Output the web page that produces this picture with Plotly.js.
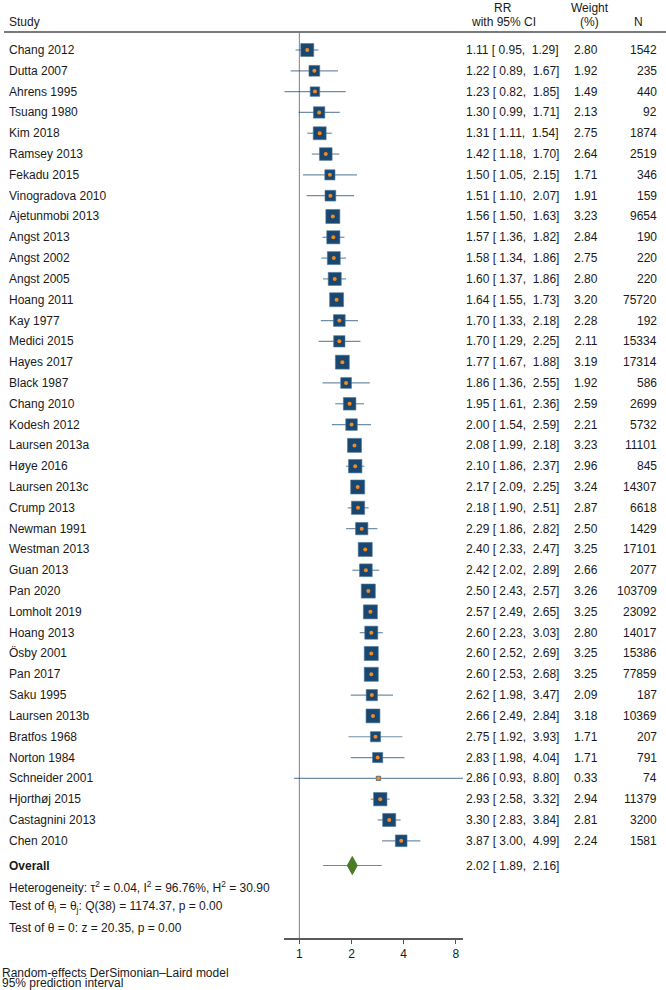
<!DOCTYPE html>
<html>
<head>
<meta charset="utf-8">
<script src="https://cdn.plot.ly/plotly-3.0.1.min.js"></script>
<style>html,body{margin:0;padding:0;background:#fff;}#chart{width:666px;height:990px;}</style>
</head>
<body>
<div id="chart"></div>
<script>
const studies = ["Chang 2012","Dutta 2007","Ahrens 1995","Tsuang 1980","Kim 2018","Ramsey 2013","Fekadu 2015","Vinogradova 2010","Ajetunmobi 2013","Angst 2013","Angst 2002","Angst 2005","Hoang 2011","Kay 1977","Medici 2015","Hayes 2017","Black 1987","Chang 2010","Kodesh 2012","Laursen 2013a","Høye 2016","Laursen 2013c","Crump 2013","Newman 1991","Westman 2013","Guan 2013","Pan 2020","Lomholt 2019","Hoang 2013","Ösby 2001","Pan 2017","Saku 1995","Laursen 2013b","Bratfos 1968","Norton 1984","Schneider 2001","Hjorthøj 2015","Castagnini 2013","Chen 2010"];
const rr     = [1.11,1.22,1.23,1.30,1.31,1.42,1.50,1.51,1.56,1.57,1.58,1.60,1.64,1.70,1.70,1.77,1.86,1.95,2.00,2.08,2.10,2.17,2.18,2.29,2.40,2.42,2.50,2.57,2.60,2.60,2.60,2.62,2.66,2.75,2.83,2.86,2.93,3.30,3.87];
const ciLow  = [0.95,0.89,0.82,0.99,1.11,1.18,1.05,1.10,1.50,1.36,1.34,1.37,1.55,1.33,1.29,1.67,1.36,1.61,1.54,1.99,1.86,2.09,1.90,1.86,2.33,2.02,2.43,2.49,2.23,2.52,2.53,1.98,2.49,1.92,1.98,0.93,2.58,2.83,3.00];
const ciHigh = [1.29,1.67,1.85,1.71,1.54,1.70,2.15,2.07,1.63,1.82,1.86,1.86,1.73,2.18,2.25,1.88,2.55,2.36,2.59,2.18,2.37,2.25,2.51,2.82,2.47,2.89,2.57,2.65,3.03,2.69,2.68,3.47,2.84,3.93,4.04,8.80,3.32,3.84,4.99];
const weight = [2.80,1.92,1.49,2.13,2.75,2.64,1.71,1.91,3.23,2.84,2.75,2.80,3.20,2.28,2.11,3.19,1.92,2.59,2.21,3.23,2.96,3.24,2.87,2.50,3.25,2.66,3.26,3.25,2.80,3.25,3.25,2.09,3.18,1.71,1.71,0.33,2.94,2.81,2.24];
const nObs   = [1542,235,440,92,1874,2519,346,159,9654,190,220,220,75720,192,15334,17314,586,2699,5732,11101,845,14307,6618,1429,17101,2077,103709,23092,14017,15386,77859,187,10369,207,791,74,11379,3200,1581];

const overall = {label: "Overall", rr: 2.02, lo: 1.89, hi: 2.16, predLo: 1.37, predHi: 2.99};
const statLines = [
  "Heterogeneity: τ<sup>2</sup> = 0.04, I<sup>2</sup> = 96.76%, H<sup>2</sup> = 30.90",
  "Test of θ<sub>i</sub> = θ<sub>j</sub>: Q(38) = 1174.37, p = 0.00",
  "Test of θ = 0: z = 20.35, p = 0.00"
];
const footLines = ["Random-effects DerSimonian–Laird model", "95% prediction interval"];
const tickVals = [1, 2, 4, 8];
const tickLabels = ["1", "2", "4", "8"];

// ---- layout helpers (pixel -> paper) ----
const W = 666, H = 990;
const px = x => x / W;
const py = y => 1 - y / H;
const FONT = "Liberation Sans, Arial, sans-serif";
const TXT = "#1a1a1a";
const ROW0 = 50, ROWSTEP = 20.81, AXIS_Y = 938;
const yTop = -ROW0 / ROWSTEP, yBot = (AXIS_Y - ROW0) / ROWSTEP;
const rowOf = y => (y - ROW0) / ROWSTEP;
const overallRow = rowOf(865.5);

const NAVY = "#1a476f";
const fmt = v => v.toFixed(2);
const pad = v => (v < 10 ? "\u00a0" : "") + fmt(v);

const traces = [];
// CI lines
const lx = [], ly = [];
studies.forEach((s, i) => { lx.push(ciLow[i], ciHigh[i], null); ly.push(i, i, null); });
traces.push({x: lx, y: ly, mode: "lines", line: {color: "rgba(26,71,111,0.62)", width: 1.2}, hoverinfo: "skip"});
// squares
traces.push({x: rr, y: studies.map((s, i) => i), mode: "markers",
  marker: {symbol: "square", size: weight.map(w => 7.8 * Math.sqrt(w)), color: NAVY, opacity: 1,
           line: {color: "#4f7aa0", width: 0.6}}, cliponaxis: false, hoverinfo: "skip"});
// centre dots
traces.push({x: rr, y: studies.map((s, i) => i), mode: "markers",
  marker: {symbol: "circle", size: 4, color: "#f28a1e", opacity: 1, line: {width: 0}}, cliponaxis: false, hoverinfo: "skip"});
// prediction interval
traces.push({x: [overall.predLo, overall.predHi], y: [overallRow, overallRow], mode: "lines",
  line: {color: "#6f9a4c", width: 1.2}, hoverinfo: "skip"});
// diamond
const dh = 0.43;
traces.push({x: [overall.lo, overall.rr, overall.hi, overall.rr, overall.lo],
  y: [overallRow, overallRow - dh, overallRow, overallRow + dh, overallRow],
  mode: "lines", fill: "toself", fillcolor: "#4b7b27", line: {color: "#4b7b27", width: 1}, hoverinfo: "skip"});

const ann = [];
const A = (text, x, y, xanchor, yref, extra) => ann.push(Object.assign({
  text, x, y, xref: "paper", yref: yref || "paper", xanchor, yanchor: "middle",
  showarrow: false, font: {family: FONT, size: 12, color: TXT}
}, extra || {}));

// headers
A("Study", px(6.5), py(22), "left");
A("RR", px(503), py(8), "center");
A("with 95% CI", px(503), py(22), "center");
A("Weight", px(589.5), py(8), "center");
A("(%)", px(589), py(22), "center");
A("N", px(638), py(22), "center");

studies.forEach((s, i) => {
  A(s, px(6.5), i, "left", "y");
  A(fmt(rr[i]) + " [" + pad(ciLow[i]) + ",\u00a0" + pad(ciHigh[i]) + "]", px(560.5), i, "right", "y");
  A(fmt(weight[i]), px(599.5), i, "right", "y");
  A(String(nObs[i]), px(658.5), i, "right", "y");
});
A("<b>" + overall.label + "</b>", px(6.5), overallRow, "left", "y");
A(fmt(overall.rr) + " [" + pad(overall.lo) + ",\u00a0" + pad(overall.hi) + "]", px(560.5), overallRow, "right", "y");
[886.7, 906.7, 927.5].forEach((y, k) => A(statLines[k], px(6.5), py(y), "left"));
A(footLines[0], px(0), py(972.5), "left");
A(footLines[1], px(0), py(983), "left");

const layout = {
  width: W, height: H,
  margin: {l: 0, r: 0, t: 0, b: 0, pad: 0},
  paper_bgcolor: "#fff", plot_bgcolor: "rgba(0,0,0,0)",
  showlegend: false,
  xaxis: {type: "log", domain: [px(284), px(463)], range: [Math.log10(0.815), Math.log10(8.8)],
    tickvals: tickVals, ticktext: tickLabels, ticks: "outside", ticklen: 4, tickwidth: 1.2, tickcolor: "#555",
    showline: true, linecolor: "#5a5a5a", linewidth: 1.6, showgrid: false, zeroline: false,
    tickfont: {family: FONT, size: 12, color: TXT}, fixedrange: true},
  yaxis: {domain: [py(AXIS_Y), 1], range: [yBot, yTop], visible: false, showgrid: false, zeroline: false, fixedrange: true},
  shapes: [
    {type: "line", xref: "x", yref: "paper", x0: 1, x1: 1, y0: py(AXIS_Y), y1: py(32), line: {color: "#8c8c8c", width: 1.1}, layer: "below"},
    {type: "line", xref: "paper", yref: "paper", x0: px(4), x1: 1, y0: py(32), y1: py(32), line: {color: "#7a7a7a", width: 2}}
  ],
  annotations: ann
};
Plotly.newPlot("chart", traces, layout, {staticPlot: true, displayModeBar: false});
</script>
</body>
</html>
